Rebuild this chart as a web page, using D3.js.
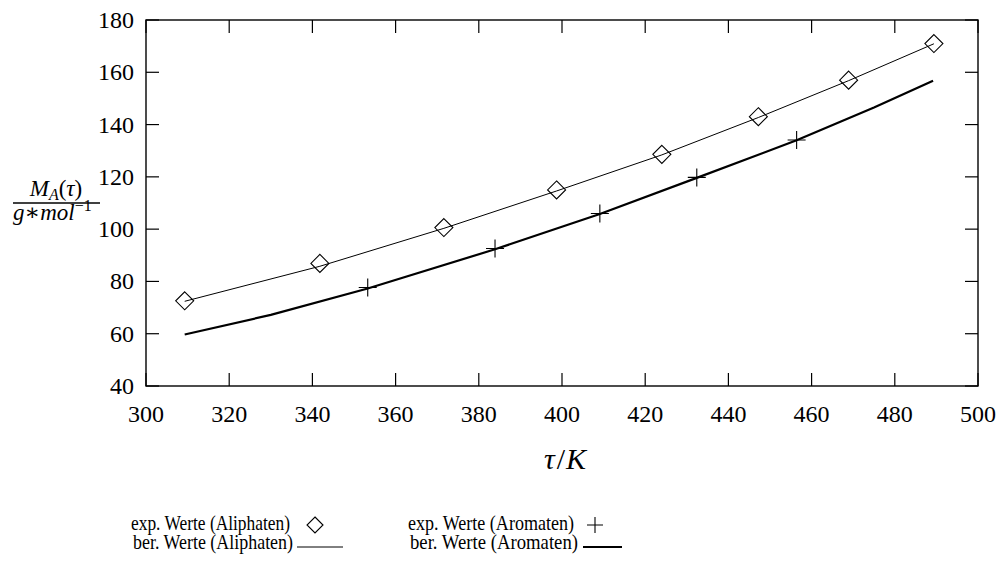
<!DOCTYPE html>
<html>
<head>
<meta charset="utf-8">
<script src="https://cdn.jsdelivr.net/npm/d3@7"></script>
<style>
  body { margin: 0; background: #fff; }
  svg text { font-family: "Liberation Serif", "DejaVu Serif", serif; fill: #000; }
</style>
</head>
<body>
<svg id="chart" width="1001" height="569" font-family="Liberation Serif, serif"></svg>
<script>
// tick labels
var xTicks = [300, 320, 340, 360, 380, 400, 420, 440, 460, 480, 500];
var yTicks = [40, 60, 80, 100, 120, 140, 160, 180];

// exp. Werte (Aliphaten)
var aliT = [309.3, 341.8, 371.6, 398.7, 424.0, 447.2, 468.9, 489.4];
var aliM = [72.6, 86.9, 100.6, 115.0, 128.6, 143.0, 157.0, 171.0];
// ber. Werte (Aliphaten)
var aliCalcT = [309.3, 341.8, 371.6, 398.7, 424.0, 447.2, 468.9, 489.4];
var aliCalcM = [72.4, 85.8, 100.3, 114.6, 128.4, 142.7, 156.8, 170.9];

// exp. Werte (Aromaten)
var aroT = [353.3, 383.9, 409.1, 432.4, 456.4];
var aroM = [77.7, 92.6, 106.0, 119.8, 134.1];
// ber. Werte (Aromaten)
var aroCalcT = [309.3, 330.0, 353.3, 383.9, 409.1, 432.4, 456.4, 475.0, 489.2];
var aroCalcM = [59.7, 67.2, 77.3, 92.3, 105.8, 119.6, 134.0, 146.5, 156.8];

var svg = d3.select("#chart");
var mLeft = 146, mRight = 978, mTop = 20, mBottom = 386;

var x = d3.scaleLinear().domain([300, 500]).range([mLeft, mRight]);
var y = d3.scaleLinear().domain([40, 180]).range([mBottom, mTop]);

var tickLen = 13;

// frame
svg.append("rect")
    .attr("x", mLeft).attr("y", mTop)
    .attr("width", mRight - mLeft).attr("height", mBottom - mTop)
    .attr("fill", "none").attr("stroke", "#000").attr("stroke-width", 1.4);

// inward ticks on all four sides
var g = svg.append("g").attr("stroke", "#000").attr("stroke-width", 1.2);
xTicks.forEach(function (t) {
    g.append("line").attr("x1", x(t)).attr("x2", x(t)).attr("y1", mBottom).attr("y2", mBottom - tickLen);
    g.append("line").attr("x1", x(t)).attr("x2", x(t)).attr("y1", mTop).attr("y2", mTop + tickLen);
});
yTicks.forEach(function (t) {
    g.append("line").attr("x1", mLeft).attr("x2", mLeft + tickLen).attr("y1", y(t)).attr("y2", y(t));
    g.append("line").attr("x1", mRight).attr("x2", mRight - tickLen).attr("y1", y(t)).attr("y2", y(t));
});

// tick labels
svg.append("g").selectAll("text").data(xTicks).enter().append("text")
    .attr("x", function (d) { return x(d); })
    .attr("y", mBottom + 36)
    .attr("text-anchor", "middle")
    .attr("font-size", 24)
    .text(function (d) { return d; });

svg.append("g").selectAll("text").data(yTicks).enter().append("text")
    .attr("x", mLeft - 12)
    .attr("y", function (d) { return y(d) + 8; })
    .attr("text-anchor", "end")
    .attr("font-size", 24)
    .text(function (d) { return d; });

// x axis title
var xt = svg.append("text")
    .attr("x", 565).attr("y", 469)
    .attr("text-anchor", "middle")
    .attr("font-size", 30)
    .attr("font-style", "italic");
xt.append("tspan").text("τ");
xt.append("tspan").attr("font-style", "normal").attr("dx", 2).text("/");
xt.append("tspan").attr("dx", 1).text("K");

// y axis title as fraction
var num = svg.append("text")
    .attr("x", 56).attr("y", 196)
    .attr("text-anchor", "middle")
    .attr("font-size", 23);
num.append("tspan").attr("font-style", "italic").text("M");
num.append("tspan").attr("font-style", "italic").attr("font-size", 16).attr("dy", 4).text("A");
num.append("tspan").attr("dy", -4).text("(");
num.append("tspan").attr("font-style", "italic").text("τ");
num.append("tspan").text(")");

svg.append("line")
    .attr("x1", 13).attr("x2", 100)
    .attr("y1", 203).attr("y2", 203)
    .attr("stroke", "#000").attr("stroke-width", 1.6);

var den = svg.append("text")
    .attr("x", 13).attr("y", 220)
    .attr("font-size", 23);
den.append("tspan").attr("font-style", "italic").text("g");
den.append("tspan").text("∗");
den.append("tspan").attr("font-style", "italic").text("mol");
den.append("tspan").attr("font-size", 16).attr("dy", -9).text("−1");

// lines
var line = d3.line()
    .x(function (d) { return x(d[0]); })
    .y(function (d) { return y(d[1]); });

svg.append("path")
    .datum(d3.zip(aliCalcT, aliCalcM))
    .attr("d", line)
    .attr("fill", "none").attr("stroke", "#000").attr("stroke-width", 1);

svg.append("path")
    .datum(d3.zip(aroCalcT, aroCalcM))
    .attr("d", line)
    .attr("fill", "none").attr("stroke", "#000").attr("stroke-width", 2.2);

// markers
var diamondR = 9, crossR = 9;
function diamondPath(cx, cy) {
    return "M" + cx + "," + (cy - diamondR) + "L" + (cx + diamondR) + "," + cy +
        "L" + cx + "," + (cy + diamondR) + "L" + (cx - diamondR) + "," + cy + "Z";
}
function crossPath(cx, cy) {
    return "M" + (cx - crossR) + "," + cy + "L" + (cx + crossR) + "," + cy +
        "M" + cx + "," + (cy - crossR) + "L" + cx + "," + (cy + crossR);
}

svg.append("g").selectAll("path").data(d3.zip(aliT, aliM)).enter().append("path")
    .attr("d", function (d) { return diamondPath(x(d[0]), y(d[1])); })
    .attr("fill", "none").attr("stroke", "#000").attr("stroke-width", 1.1);

svg.append("g").selectAll("path").data(d3.zip(aroT, aroM)).enter().append("path")
    .attr("d", function (d) { return crossPath(x(d[0]), y(d[1])); })
    .attr("fill", "none").attr("stroke", "#000").attr("stroke-width", 1.1);

// legend
var legend = svg.append("g").attr("font-size", 21);
legend.append("text").attr("x", 290).attr("y", 530).attr("text-anchor", "end")
    .attr("textLength", 159).attr("lengthAdjust", "spacingAndGlyphs").text("exp. Werte (Aliphaten)");
legend.append("text").attr("x", 293).attr("y", 549).attr("text-anchor", "end")
    .attr("textLength", 160).attr("lengthAdjust", "spacingAndGlyphs").text("ber. Werte (Aliphaten)");
legend.append("text").attr("x", 574).attr("y", 530).attr("text-anchor", "end")
    .attr("textLength", 166).attr("lengthAdjust", "spacingAndGlyphs").text("exp. Werte (Aromaten)");
legend.append("text").attr("x", 578).attr("y", 549).attr("text-anchor", "end")
    .attr("textLength", 168).attr("lengthAdjust", "spacingAndGlyphs").text("ber. Werte (Aromaten)");

diamondR = 8;
legend.append("path").attr("d", diamondPath(315, 525))
    .attr("fill", "none").attr("stroke", "#000").attr("stroke-width", 1.1);
crossR = 8;
legend.append("path").attr("d", crossPath(595, 525))
    .attr("fill", "none").attr("stroke", "#000").attr("stroke-width", 1.1);
legend.append("line").attr("x1", 297).attr("x2", 343).attr("y1", 547).attr("y2", 547)
    .attr("stroke", "#000").attr("stroke-width", 1);
legend.append("line").attr("x1", 583).attr("x2", 622).attr("y1", 547).attr("y2", 547)
    .attr("stroke", "#000").attr("stroke-width", 2.2);
</script>
</body>
</html>
